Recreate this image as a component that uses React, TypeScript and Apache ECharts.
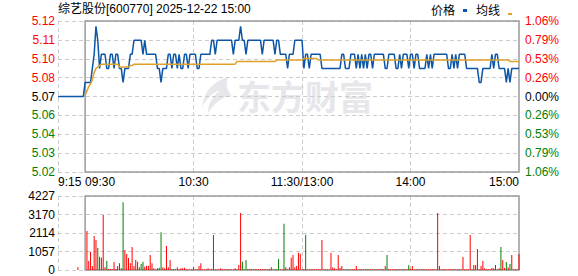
import React, { useEffect, useRef } from 'react';
import * as echarts from 'echarts';

// ---------- data ----------
const stockTitle = '综艺股份[600770] 2025-12-22 15:00';
const prevClose = 5.07;

// minute categories: 9:15..11:30, 13:01..15:00
const times: string[] = [];
const fmt = (m: number) => `${Math.floor(m / 60)}:${String(m % 60).padStart(2, '0')}`;
for (let m = 9 * 60 + 15; m <= 11 * 60 + 30; m++) times.push(fmt(m));
for (let m = 13 * 60 + 1; m <= 15 * 60; m++) times.push(fmt(m));

const prices = [
  5.07, 5.07, 5.07, 5.07, 5.07, 5.07, 5.07, 5.07, 5.07, 5.07,
  5.07, 5.07, 5.07, 5.07, 5.07, 5.08, 5.08, 5.08, 5.08, 5.09,
  5.10, 5.12, 5.11, 5.09, 5.10, 5.10, 5.10, 5.09, 5.09, 5.10,
  5.10, 5.09, 5.10, 5.10, 5.09, 5.09, 5.08, 5.09, 5.09, 5.09,
  5.10, 5.10, 5.11, 5.11, 5.11, 5.11, 5.11, 5.10, 5.11, 5.10,
  5.10, 5.10, 5.10, 5.10, 5.10, 5.09, 5.09, 5.08, 5.09, 5.09,
  5.09, 5.10, 5.10, 5.09, 5.10, 5.10, 5.09, 5.10, 5.09, 5.09,
  5.10, 5.10, 5.09, 5.10, 5.10, 5.10, 5.10, 5.09, 5.09, 5.10,
  5.10, 5.10, 5.10, 5.10, 5.10, 5.11, 5.11, 5.10, 5.11, 5.11,
  5.11, 5.11, 5.11, 5.11, 5.11, 5.11, 5.11, 5.10, 5.11, 5.11,
  5.11, 5.12, 5.11, 5.11, 5.10, 5.11, 5.11, 5.11, 5.11, 5.11,
  5.11, 5.11, 5.11, 5.10, 5.11, 5.11, 5.11, 5.11, 5.11, 5.11,
  5.10, 5.11, 5.11, 5.10, 5.10, 5.10, 5.10, 5.09, 5.10, 5.10,
  5.10, 5.11, 5.11, 5.11, 5.11, 5.11, 5.09, 5.10, 5.10, 5.09,
  5.10, 5.10, 5.10, 5.10, 5.10, 5.10, 5.09, 5.09, 5.09, 5.09,
  5.09, 5.09, 5.09, 5.09, 5.09, 5.09, 5.09, 5.10, 5.10, 5.09,
  5.09, 5.09, 5.10, 5.10, 5.10, 5.09, 5.10, 5.09, 5.10, 5.09,
  5.10, 5.09, 5.10, 5.10, 5.09, 5.10, 5.10, 5.10, 5.10, 5.10,
  5.10, 5.09, 5.09, 5.10, 5.10, 5.10, 5.10, 5.09, 5.09, 5.10,
  5.09, 5.10, 5.10, 5.10, 5.09, 5.10, 5.10, 5.09, 5.10, 5.10,
  5.09, 5.09, 5.09, 5.09, 5.10, 5.09, 5.10, 5.09, 5.10, 5.10,
  5.10, 5.10, 5.10, 5.10, 5.10, 5.10, 5.09, 5.09, 5.10, 5.09,
  5.10, 5.09, 5.10, 5.10, 5.10, 5.10, 5.09, 5.09, 5.09, 5.09,
  5.09, 5.09, 5.09, 5.08, 5.08, 5.09, 5.09, 5.09, 5.09, 5.09,
  5.10, 5.09, 5.10, 5.10, 5.09, 5.09, 5.09, 5.09, 5.08, 5.09,
  5.08, 5.09, 5.09, 5.09, 5.09, 5.09,
];

const avgPrices = [
  null, null, null, null, null, null, null, null, null, null,
  null, null, null, null, null, 5.071, 5.074, 5.077, 5.079, 5.082,
  5.087, 5.090, 5.091, 5.092, 5.093, 5.093, 5.093, 5.093, 5.093, 5.093,
  5.093, 5.093, 5.093, 5.093, 5.091, 5.091, 5.091, 5.091, 5.091, 5.091,
  5.092, 5.092, 5.093, 5.093, 5.093, 5.093, 5.093, 5.093, 5.093, 5.093,
  5.093, 5.093, 5.093, 5.093, 5.093, 5.093, 5.093, 5.093, 5.093, 5.093,
  5.093, 5.093, 5.093, 5.093, 5.093, 5.093, 5.093, 5.093, 5.093, 5.093,
  5.093, 5.093, 5.093, 5.093, 5.093, 5.093, 5.093, 5.093, 5.093, 5.093,
  5.093, 5.093, 5.093, 5.093, 5.093, 5.093, 5.093, 5.093, 5.093, 5.093,
  5.093, 5.093, 5.093, 5.093, 5.093, 5.093, 5.093, 5.093, 5.093, 5.095,
  5.095, 5.095, 5.095, 5.095, 5.095, 5.095, 5.095, 5.095, 5.095, 5.095,
  5.095, 5.095, 5.095, 5.095, 5.095, 5.095, 5.095, 5.095, 5.095, 5.095,
  5.095, 5.096, 5.096, 5.096, 5.096, 5.096, 5.096, 5.096, 5.096, 5.096,
  5.096, 5.096, 5.096, 5.096, 5.096, 5.096, 5.097, 5.097, 5.097, 5.097,
  5.097, 5.097, 5.097, 5.097, 5.096, 5.096, 5.096, 5.096, 5.096, 5.096,
  5.096, 5.096, 5.096, 5.096, 5.096, 5.096, 5.096, 5.096, 5.096, 5.096,
  5.096, 5.096, 5.096, 5.096, 5.096, 5.096, 5.096, 5.096, 5.096, 5.096,
  5.096, 5.096, 5.096, 5.096, 5.096, 5.096, 5.096, 5.096, 5.096, 5.096,
  5.096, 5.096, 5.096, 5.096, 5.096, 5.096, 5.096, 5.096, 5.096, 5.096,
  5.096, 5.096, 5.096, 5.096, 5.096, 5.096, 5.096, 5.096, 5.096, 5.096,
  5.096, 5.096, 5.096, 5.096, 5.096, 5.096, 5.096, 5.096, 5.096, 5.096,
  5.096, 5.096, 5.096, 5.096, 5.096, 5.096, 5.096, 5.096, 5.096, 5.096,
  5.096, 5.096, 5.096, 5.096, 5.096, 5.096, 5.096, 5.096, 5.096, 5.096,
  5.096, 5.096, 5.096, 5.096, 5.096, 5.096, 5.096, 5.096, 5.096, 5.096,
  5.096, 5.096, 5.096, 5.096, 5.096, 5.096, 5.096, 5.096, 5.096, 5.096,
  5.095, 5.095, 5.095, 5.095, 5.095, 5.095,
];

const volumes = [
  0, 0, 0, 0, 0, 0, 0, 0, 0, 0,
  0, 152, 0, 0, 0, 0, 2228, 514, 1047, 228,
  1942, 1714, 1257, 762, 700, 3142, 152, 514, 57, 57,
  57, 457, 57, 228, 381, 95, 3865, 1142, 914, 685,
  381, 1314, 228, 571, 476, 152, 343, 476, 190, 248,
  248, 857, 381, 95, 38, 95, 133, 2152, 152, 95,
  1371, 152, 571, 38, 57, 38, 152, 38, 95, 95,
  133, 38, 38, 38, 38, 152, 38, 38, 228, 381,
  38, 38, 38, 95, 38, 76, 1999, 38, 57, 38,
  95, 38, 38, 38, 38, 38, 38, 38, 95, 38,
  286, 3256, 476, 38, 571, 57, 38, 57, 38, 57,
  38, 38, 57, 38, 57, 38, 38, 57, 152, 38,
  38, 38, 628, 38, 38, 2647, 152, 38, 152, 704,
  857, 152, 228, 990, 933, 38, 38, 2000, 38, 38,
  38, 38, 38, 38, 38, 38, 1714, 38, 38, 38,
  38, 990, 152, 95, 38, 857, 114, 228, 38, 38,
  38, 38, 38, 38, 38, 228, 38, 38, 38, 38,
  38, 38, 38, 38, 38, 38, 38, 38, 38, 38,
  38, 228, 857, 38, 38, 38, 38, 38, 38, 38,
  38, 38, 38, 38, 267, 76, 228, 38, 38, 38,
  38, 38, 38, 38, 38, 38, 38, 38, 38, 38,
  3256, 228, 38, 38, 38, 38, 38, 38, 38, 38,
  38, 38, 38, 38, 743, 38, 38, 38, 2000, 38,
  286, 286, 1200, 38, 228, 514, 95, 38, 38, 57,
  114, 95, 286, 38, 95, 1314, 571, 114, 457, 152,
  343, 857, 38, 38, 38, 914,
];

// minutes whose volume bar is green (price fell)
const downMinutes = [22, 23, 27, 34, 36, 46, 47, 54, 56, 57, 63, 64, 102, 103, 104, 120, 121, 122, 125, 137, 160, 161, 170, 172, 175, 182, 194, 242, 245, 248, 250];

const priceTickLabels = ['5.12', '5.11', '5.10', '5.08', '5.07', '5.06', '5.04', '5.03', '5.02'];
const pctTickLabels = ['1.06%', '0.79%', '0.53%', '0.26%', '0.00%', '0.26%', '0.53%', '0.79%', '1.06%'];
const pctMax = 1.06;
const pctStep = 0.265;
const volMax = 4227;

const xLabelIdx = [0, 15, 75, 135, 195, 255];
const xLabelText = ['9:15', '09:30', '10:30', '11:30/13:00', '14:00', '15:00'];
const xGridIdx = [0, 75, 135, 195];
const openIdx = 15;

// ---------- styles ----------
const FONT = "'Liberation Sans', 'Noto Sans CJK SC', sans-serif";
const CJK = "'Noto Sans CJK SC', sans-serif";
const RED = '#ff0000';
const GREEN = '#008000';
const BLUE = '#0d55a6';
const GOLD = '#dfa128';
const DASH = { color: '#cccccc', width: 1, type: [4, 3] as number[] };
const BORDER = { color: 'rgba(0,0,0,0)', borderColor: '#9a9a9a', borderWidth: 1.5 };

const logoPath =
  'M28 0 C14 4 4 14 2 30 C6 22 12 16 20 13 C12 20 8 27 8 36 C14 26 22 20 32 18 C26 14 26 6 28 0 Z';
echarts.graphic.registerShape('emlogo', echarts.graphic.extendPath(logoPath, {}));

const tickIndex = (v: number) => 8 - Math.round((Number(v) + pctMax) / pctStep);

function buildOption() {
  const pctData = prices.map((p) => +(((p - prevClose) / prevClose) * 100).toFixed(4));
  const avgData = avgPrices.map((p) => (p == null ? null : +(((p - prevClose) / prevClose) * 100).toFixed(4)));
  const lastIdx = times.length - 1;

  const xLabel = {
    show: true,
    interval: (i: number) => xLabelIdx.includes(i),
    margin: 4,
    color: '#000',
    fontSize: 12,
    fontFamily: FONT,
    formatter: (_v: string, i: number) => {
      const k = xLabelIdx.indexOf(i);
      if (k < 0) return '';
      if (k === 0) return `{l|${xLabelText[k]}}`;
      if (k === 1) return `{m|${xLabelText[k]}}`;
      if (k === xLabelIdx.length - 1) return `{r|${xLabelText[k]}}`;
      return xLabelText[k];
    },
    rich: {
      l: { padding: [0, 0, 0, 23.4], fontSize: 12, fontFamily: FONT, color: '#000' },
      m: { padding: [0, 0, 0, 30], fontSize: 12, fontFamily: FONT, color: '#000' },
      r: { padding: [0, 30, 0, 0], fontSize: 12, fontFamily: FONT, color: '#000' },
    },
  };

  return {
    animation: false,
    textStyle: { fontFamily: FONT },
    grid: [
      { left: 58, right: 59, top: 21, bottom: 104 },
      { left: 58, right: 59, top: 196, bottom: 6 },
    ],
    xAxis: [
      {
        type: 'category',
        gridIndex: 0,
        data: times,
        boundaryGap: false,
        axisLine: { show: false },
        axisTick: { show: false },
        axisLabel: xLabel,
        splitLine: { show: true, interval: (i: number) => xGridIdx.includes(i), lineStyle: DASH },
      },
      {
        type: 'category',
        gridIndex: 1,
        data: times,
        boundaryGap: false,
        axisLine: { show: false },
        axisTick: { show: false },
        axisLabel: { show: false },
        splitLine: { show: true, interval: (i: number) => xGridIdx.includes(i), lineStyle: DASH },
      },
    ],
    yAxis: [
      {
        type: 'value',
        gridIndex: 0,
        min: -pctMax,
        max: pctMax,
        interval: pctStep,
        axisLine: { show: false },
        axisTick: { show: false },
        splitLine: { show: true, lineStyle: DASH },
        axisLabel: {
          margin: 3,
          fontSize: 12,
          fontFamily: FONT,
          formatter: (v: number) => priceTickLabels[tickIndex(v)],
          color: (v: any) => {
            const k = tickIndex(v);
            return k < 4 ? RED : k === 4 ? '#000' : GREEN;
          },
        },
      },
      {
        type: 'value',
        gridIndex: 0,
        position: 'right',
        min: -pctMax,
        max: pctMax,
        interval: pctStep,
        axisLine: { show: false },
        axisTick: { show: false },
        splitLine: { show: false },
        axisLabel: {
          margin: 6,
          fontSize: 12,
          fontFamily: FONT,
          formatter: (v: number) => pctTickLabels[tickIndex(v)],
          color: (v: any) => {
            const k = tickIndex(v);
            return k < 4 ? RED : k === 4 ? '#000' : GREEN;
          },
        },
      },
      {
        type: 'value',
        gridIndex: 1,
        min: 0,
        max: volMax,
        interval: volMax / 4,
        axisLine: { show: false },
        axisTick: { show: false },
        splitLine: { show: true, lineStyle: DASH },
        axisLabel: {
          margin: 3,
          fontSize: 12,
          fontFamily: FONT,
          color: '#000',
          formatter: (v: number) => String(Math.round(v)),
        },
      },
    ],
    series: [
      {
        name: '价格',
        type: 'line',
        xAxisIndex: 0,
        yAxisIndex: 0,
        data: pctData,
        symbol: 'none',
        lineStyle: { color: BLUE, width: 1.5 },
        z: 3,
        markArea: {
          silent: true,
          itemStyle: BORDER,
          label: { show: false },
          data: [[{ xAxis: openIdx, yAxis: -pctMax }, { xAxis: lastIdx, yAxis: pctMax }]],
        },
      },
      {
        name: '均线',
        type: 'line',
        xAxisIndex: 0,
        yAxisIndex: 0,
        data: avgData,
        symbol: 'none',
        connectNulls: false,
        lineStyle: { color: GOLD, width: 1.5 },
        z: 4,
      },
      {
        name: '成交量',
        type: 'bar',
        xAxisIndex: 1,
        yAxisIndex: 2,
        data: volumes,
        barWidth: 1,
        itemStyle: {
          color: (p: any) => (downMinutes.includes(p.dataIndex) ? GREEN : RED),
        },
      },
      {
        name: '成交量框',
        type: 'line',
        xAxisIndex: 1,
        yAxisIndex: 2,
        data: volumes,
        symbol: 'none',
        silent: true,
        lineStyle: { opacity: 0 },
        markArea: {
          silent: true,
          itemStyle: BORDER,
          label: { show: false },
          data: [[{ xAxis: openIdx, yAxis: 0 }, { xAxis: lastIdx, yAxis: volMax }]],
        },
      },
    ],
    graphic: [
      {
        type: 'emlogo',
        x: 200,
        y: 77,
        z: -10,
        silent: true,
        style: { fill: '#e6e6eb' },
      },
      {
        type: 'text',
        x: 237,
        y: 95,
        z: -10,
        silent: true,
        style: {
          text: '东方财富',
          fontSize: 34,
          fontWeight: 'bold',
          fontFamily: CJK,
          fill: '#e6e6eb',
          verticalAlign: 'middle',
        },
      },
      {
        type: 'text',
        x: 58,
        y: 9,
        style: { text: stockTitle, fontSize: 12, fontFamily: FONT, fill: '#000', verticalAlign: 'middle' },
      },
      {
        type: 'text',
        x: 431,
        y: 9,
        style: { text: '价格', fontSize: 12, fontFamily: CJK, fill: '#000', verticalAlign: 'middle' },
      },
      { type: 'rect', shape: { x: 463, y: 9, width: 4, height: 3 }, style: { fill: BLUE } },
      {
        type: 'text',
        x: 476,
        y: 9,
        style: { text: '均线', fontSize: 12, fontFamily: CJK, fill: '#000', verticalAlign: 'middle' },
      },
      { type: 'rect', shape: { x: 508, y: 13, width: 4, height: 2 }, style: { fill: GOLD } },
    ],
  };
}

export default function App() {
  const ref = useRef<HTMLDivElement>(null);
  useEffect(() => {
    document.body.style.margin = '0';
    const chart = echarts.init(ref.current as HTMLDivElement, null, { renderer: 'svg' });
    chart.setOption(buildOption() as any);
    return () => chart.dispose();
  }, []);
  return <div ref={ref} style={{ width: 578, height: 276 }} />;
}
